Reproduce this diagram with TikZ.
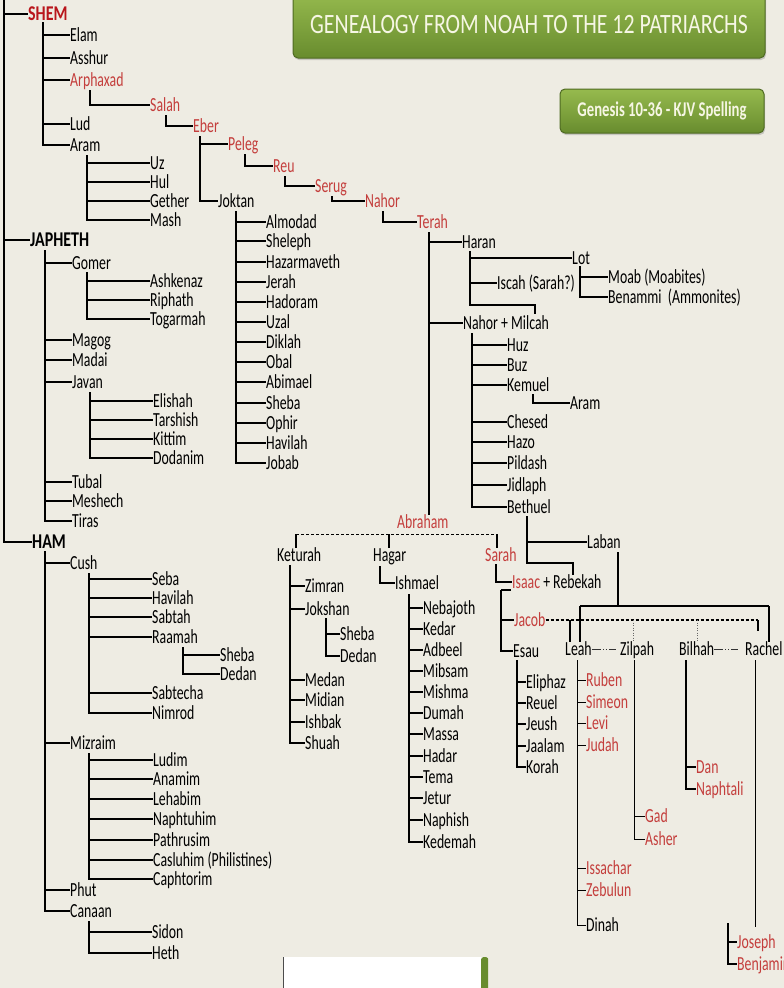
\documentclass[tikz,border=0pt]{standalone}
\usepackage{fontspec}
\setmainfont{Carlito}[FakeStretch=0.69]
\newfontfamily\headfont{Carlito}[FakeStretch=0.76]
\newfontfamily\titlefont{Carlito}[FakeStretch=0.78]
\newfontfamily\subfont{Carlito}[FakeStretch=0.70]
\usetikzlibrary{shadows}
\definecolor{bg}{RGB}{238,236,227}
\definecolor{redname}{RGB}{196,62,60}
\definecolor{shemred}{RGB}{185,22,28}
\definecolor{boxtop}{RGB}{150,186,78}
\definecolor{boxbot}{RGB}{104,140,46}
\definecolor{boxedge}{RGB}{78,106,34}
\definecolor{titletext}{RGB}{246,246,228}
\begin{document}
\begin{tikzpicture}[x=1pt,y=-1pt,
  nm/.style={anchor=west,inner sep=0pt,text height=13pt,text depth=0pt,font=\fontsize{20}{22}\selectfont,text=black},
  rd/.style={nm,text=redname},
  hd/.style={nm,font=\headfont\bfseries\fontsize{21}{23}\selectfont},
  ln/.style={line width=1.1pt,draw=black},
  dsh/.style={line width=1.1pt,draw=black,dash pattern=on 3pt off 2pt},
  dtt/.style={line width=0.7pt,draw=black!60,dash pattern=on 1pt off 1.5pt},
  wifeln/.style={line width=0.9pt,draw=black!80,dash pattern=on 9pt off 2pt on 1pt off 2pt on 1pt off 2pt on 7pt off 20pt},
  greenbox/.style={rounded corners=5pt,draw=boxedge,line width=1pt,top color=boxtop,bottom color=boxbot,text=titletext,
     drop shadow={opacity=0.35,shadow xshift=1pt,shadow yshift=-2pt}}
]
\useasboundingbox (0,0) rectangle (784,988);
\fill[bg] (0,0) rectangle (784,988);

% ---------- title boxes ----------
\node[greenbox,minimum width=472pt,minimum height=66pt,font=\titlefont\fontsize{28}{30}\selectfont] (title) at (529,25) {GENEALOGY FROM NOAH TO THE 12 PATRIARCHS};
\node[greenbox,minimum width=204pt,minimum height=44pt,font=\subfont\bfseries\fontsize{21}{23}\selectfont] (subtitle) at (662,111) {Genesis 10-36 - KJV Spelling};
\node[fill=white,minimum width=205pt,minimum height=40pt,anchor=north west,inner sep=0pt] (blank) at (283,957) {};
\node[fill=boxbot,minimum width=7pt,minimum height=40pt,anchor=north east,inner sep=0pt,rounded corners=2pt] (blankedge) at (blank.north east) {};
\draw[black!70,line width=0.8pt] (blank.north west) -- (blank.south west);

% ---------- sons of Noah ----------
\node[hd,text=shemred] (shem) at (28,14) {SHEM};
\node[hd] (japheth) at (30,240) {JAPHETH};
\node[hd] (ham) at (32,542) {HAM};
\coordinate (root) at (4,0);
\foreach \c in {shem,japheth,ham} \draw[ln] (root) |- (\c.west);

% ---------- SHEM ----------
\node[nm] (elam) at (70,35) {Elam};
\node[nm] (asshur) at (70,58) {Asshur};
\node[rd] (arphaxad) at (70,80) {Arphaxad};
\node[nm] (lud) at (70,124) {Lud};
\node[nm] (aramA) at (70,145) {Aram};
\coordinate (shemSp) at (43,22);
\foreach \c in {elam,asshur,arphaxad,lud,aramA} \draw[ln] (shemSp) |- (\c.west);

\node[nm] (uz) at (150,163) {Uz};
\node[nm] (hul) at (150,182) {Hul};
\node[nm] (gether) at (150,201) {Gether};
\node[nm] (mash) at (150,220) {Mash};
\coordinate (aramSp) at (87,155);
\foreach \c in {uz,hul,gether,mash} \draw[ln] (aramSp) |- (\c.west);

\node[rd] (salah) at (150,105) {Salah};
\coordinate (arphSp) at (90,90);
\draw[ln] (arphSp) |- (salah.west);
\node[rd] (eber) at (193,126) {Eber};
\coordinate (salahSp) at (166,115);
\draw[ln] (salahSp) |- (eber.west);
\node[rd] (peleg) at (228,144) {Peleg};
\node[nm] (joktan) at (218,201) {Joktan};
\coordinate (eberSp) at (200,136);
\foreach \c in {peleg,joktan} \draw[ln] (eberSp) |- (\c.west);
\node[rd] (reu) at (273,166) {Reu};
\coordinate (pelegSp) at (245,154);
\draw[ln] (pelegSp) |- (reu.west);
\node[rd] (serug) at (315,186) {Serug};
\coordinate (reuSp) at (285,176);
\draw[ln] (reuSp) |- (serug.west);
\node[rd] (nahor) at (365,201) {Nahor};
\coordinate (serugSp) at (332,196);
\draw[ln] (serugSp) |- (nahor.west);
\node[rd] (terah) at (417,222) {Terah};
\coordinate (nahorSp) at (383,211);
\draw[ln] (nahorSp) |- (terah.west);

% Joktan's sons
\node[nm] (almodad) at (266,222) {Almodad};
\node[nm] (sheleph) at (266,241) {Sheleph};
\node[nm] (hazarmaveth) at (266,262) {Hazarmaveth};
\node[nm] (jerah) at (266,282) {Jerah};
\node[nm] (hadoram) at (266,302) {Hadoram};
\node[nm] (uzal) at (266,322) {Uzal};
\node[nm] (diklah) at (266,342) {Diklah};
\node[nm] (obal) at (266,362) {Obal};
\node[nm] (abimael) at (266,382) {Abimael};
\node[nm] (shebaA) at (266,403) {Sheba};
\node[nm] (ophir) at (266,423) {Ophir};
\node[nm] (havilahA) at (266,443) {Havilah};
\node[nm] (jobab) at (266,463) {Jobab};
\coordinate (joktanSp) at (236,211);
\foreach \c in {almodad,sheleph,hazarmaveth,jerah,hadoram,uzal,diklah,obal,abimael,shebaA,ophir,havilahA,jobab}
  \draw[ln] (joktanSp) |- (\c.west);

% ---------- Terah ----------
\node[nm] (haran) at (462,242) {Haran};
\node[nm] (nahormilcah) at (463,323) {Nahor + Milcah};
\node[rd] (abraham) at (397,522) {Abraham};
\coordinate (terahSp) at (429,232);
\foreach \c in {haran,nahormilcah} \draw[ln] (terahSp) |- (\c.west);
\draw[ln] (terahSp) -- (abraham.north -| terahSp);

\node[nm] (lot) at (572,258) {Lot};
\node[nm] (iscah) at (497,283) {Iscah (Sarah?)};
\coordinate (haranSp) at (470,251);
\coordinate (milcahBend) at (535,305);
\coordinate (milcahTop) at (535,314);
\foreach \c in {lot,iscah} \draw[ln] (haranSp) |- (\c.west);
\draw[ln] (haranSp) |- (milcahBend) -- (milcahTop);

\node[nm] (moab) at (608,277) {Moab (Moabites)};
\node[nm] (benammi) at (608,297) {Benammi\ \ (Ammonites)};
\coordinate (lotSp) at (580,266);
\foreach \c in {moab,benammi} \draw[ln] (lotSp) |- (\c.west);

\node[nm] (huz) at (507,345) {Huz};
\node[nm] (buz) at (507,365) {Buz};
\node[nm] (kemuel) at (507,385) {Kemuel};
\node[nm] (chesed) at (507,422) {Chesed};
\node[nm] (hazo) at (507,442) {Hazo};
\node[nm] (pildash) at (507,463) {Pildash};
\node[nm] (jidlaph) at (507,485) {Jidlaph};
\node[nm] (bethuel) at (507,507) {Bethuel};
\coordinate (milcahSp) at (472,333);
\foreach \c in {huz,buz,kemuel,chesed,hazo,pildash,jidlaph,bethuel} \draw[ln] (milcahSp) |- (\c.west);
\node[nm] (aramB) at (570,403) {Aram};
\coordinate (kemuelSp) at (533,394);
\draw[ln] (kemuelSp) |- (aramB.west);

% Bethuel
\node[nm] (laban) at (587,542) {Laban};
\node[nm] (isaac) at (512,582) {\textcolor{redname}{Isaac} + Rebekah};
\coordinate (bethSp) at (527,516);
\coordinate (rebBend) at (573,563);
\coordinate (rebTop) at (573,575);
\draw[ln] (bethSp) |- (laban.west);
\draw[ln] (bethSp) |- (rebBend) -- (rebTop);

% ---------- Abraham's wives ----------
\node[nm] (keturah) at (277,555) {Keturah};
\node[nm] (hagar) at (373,555) {Hagar};
\node[rd] (sarah) at (485,555) {Sarah};
\coordinate (abrL) at (296,534);
\coordinate (abrM) at (389,534);
\coordinate (abrR) at (497,534);
\draw[dsh,line width=0.9pt] (abrL) -- (abrR);
\draw[ln] (abrL) -- (keturah.north -| abrL);
\draw[ln] (abrM) -- (hagar.north -| abrM);
\draw[ln] (abrR) -- (sarah.north -| abrR);

% Keturah
\node[nm] (zimran) at (305,586) {Zimran};
\node[nm] (jokshan) at (305,609) {Jokshan};
\node[nm] (medan) at (305,680) {Medan};
\node[nm] (midian) at (305,700) {Midian};
\node[nm] (ishbak) at (305,722) {Ishbak};
\node[nm] (shuah) at (305,743) {Shuah};
\coordinate (ketSp) at (290,565);
\foreach \c in {zimran,jokshan,medan,midian,ishbak,shuah} \draw[ln] (ketSp) |- (\c.west);
\node[nm] (shebaB) at (340,634) {Sheba};
\node[nm] (dedanA) at (340,656) {Dedan};
\coordinate (jokshanSp) at (326,618);
\foreach \c in {shebaB,dedanA} \draw[ln] (jokshanSp) |- (\c.west);

% Hagar
\node[nm] (ishmael) at (395,583) {Ishmael};
\coordinate (hagarSp) at (380,566);
\draw[ln] (hagarSp) |- (ishmael.west);
\node[nm] (nebajoth) at (423,608) {Nebajoth};
\node[nm] (kedar) at (423,629) {Kedar};
\node[nm] (adbeel) at (423,650) {Adbeel};
\node[nm] (mibsam) at (423,671) {Mibsam};
\node[nm] (mishma) at (423,692) {Mishma};
\node[nm] (dumah) at (423,713) {Dumah};
\node[nm] (massa) at (423,734) {Massa};
\node[nm] (hadar) at (423,756) {Hadar};
\node[nm] (tema) at (423,777) {Tema};
\node[nm] (jetur) at (423,798) {Jetur};
\node[nm] (naphish) at (423,820) {Naphish};
\node[nm] (kedemah) at (423,842) {Kedemah};
\coordinate (ishSp) at (409,594);
\foreach \c in {nebajoth,kedar,adbeel,mibsam,mishma,dumah,massa,hadar,tema,jetur,naphish,kedemah}
  \draw[ln] (ishSp) |- (\c.west);

% Sarah -> Isaac
\coordinate (sarahSp) at (496,564);
\draw[ln] (sarahSp) |- (isaac.west);
\node[rd] (jacob) at (514,620) {Jacob};
\node[nm] (esau) at (513,651) {Esau};
\coordinate (isaacSp) at (501,590);
\coordinate (isaacTick) at (511,590);
\draw[ln] (isaacSp) -- (isaacTick);
\foreach \c in {jacob,esau} \draw[ln] (isaacSp) |- (\c.west);

\node[nm] (eliphaz) at (526,682) {Eliphaz};
\node[nm] (reuel) at (526,703) {Reuel};
\node[nm] (jeush) at (526,724) {Jeush};
\node[nm] (jaalam) at (526,746) {Jaalam};
\node[nm] (korah) at (526,767) {Korah};
\coordinate (esauSp) at (517,660);
\foreach \c in {eliphaz,reuel,jeush,jaalam,korah} \draw[ln] (esauSp) |- (\c.west);

% ---------- Jacob's wives ----------
\node[nm] (leah) at (565,649) {Leah};
\node[nm] (zilpah) at (620,649) {Zilpah};
\node[nm] (bilhah) at (679,649) {Bilhah};
\node[nm] (rachel) at (745,649) {Rachel};
\draw[wifeln] (leah.east) -- (zilpah.west);
\draw[wifeln] (bilhah.east) -- (rachel.west);

\coordinate (jacR) at (758,620);
\coordinate (rachelStub) at (758,631);
\draw[dsh] (jacob.east) -- (jacR);
\draw[ln] (jacR) -- (rachelStub);
\coordinate (jLeah) at (570,620);
\coordinate (jZil) at (633,620);
\coordinate (jBil) at (697,620);
\draw[ln] (jLeah) -- (leah.north -| jLeah);
\draw[dtt] (jZil) -- (zilpah.north -| jZil);
\draw[dtt] (jBil) -- (bilhah.north -| jBil);

\coordinate (labanSp) at (618,552);
\coordinate (barMid) at (618,606);
\coordinate (barL) at (580,606);
\coordinate (barR) at (769,606);
\draw[ln] (labanSp) -- (barMid);
\draw[line width=1.9pt] (barL) -- (barR);
\draw[ln] (barL) -- (leah.north -| barL);
\draw[ln] (barR) -- (rachel.north -| barR);

% Leah
\node[rd] (ruben) at (586,680) {Ruben};
\node[rd] (simeon) at (586,702) {Simeon};
\node[rd] (levi) at (586,723) {Levi};
\node[rd] (judah) at (586,745) {Judah};
\node[rd] (issachar) at (586,868) {Issachar};
\node[rd] (zebulun) at (586,890) {Zebulun};
\node[nm] (dinah) at (586,925) {Dinah};
\coordinate (leahSp) at (577,660);
\foreach \c in {ruben,simeon,levi,judah,issachar,zebulun,dinah} \draw[line width=0.8pt] (leahSp) |- (\c.west);

% Zilpah
\node[rd] (gad) at (645,816) {Gad};
\node[rd] (asher) at (645,839) {Asher};
\coordinate (zilSp) at (634,660);
\foreach \c in {gad,asher} \draw[line width=0.8pt] (zilSp) |- (\c.west);

% Bilhah
\node[rd] (dan) at (696,767) {Dan};
\node[rd] (naphtali) at (696,789) {Naphtali};
\coordinate (bilSp) at (686,660);
\foreach \c in {dan,naphtali} \draw[ln] (bilSp) |- (\c.west);

% Rachel
\coordinate (rachelSp) at (755,660);
\coordinate (rachelEnd) at (755,927);
\draw[line width=0.8pt] (rachelSp) -- (rachelEnd);
\node[rd] (joseph) at (737,942) {Joseph};
\node[rd] (benjamin) at (737,964) {Benjamin};
\coordinate (josSp) at (728,923);
\foreach \c in {joseph,benjamin} \draw[ln] (josSp) |- (\c.west);

% ---------- JAPHETH ----------
\node[nm] (gomer) at (72,263) {Gomer};
\node[nm] (magog) at (72,340) {Magog};
\node[nm] (madai) at (72,360) {Madai};
\node[nm] (javan) at (72,382) {Javan};
\node[nm] (tubal) at (72,482) {Tubal};
\node[nm] (meshech) at (72,501) {Meshech};
\node[nm] (tiras) at (72,521) {Tiras};
\coordinate (japSp) at (45,250);
\foreach \c in {gomer,magog,madai,javan,tubal,meshech,tiras} \draw[ln] (japSp) |- (\c.west);

\node[nm] (ashkenaz) at (150,281) {Ashkenaz};
\node[nm] (riphath) at (150,300) {Riphath};
\node[nm] (togarmah) at (150,319) {Togarmah};
\coordinate (gomerSp) at (87,272);
\foreach \c in {ashkenaz,riphath,togarmah} \draw[ln] (gomerSp) |- (\c.west);

\node[nm] (elishah) at (153,401) {Elishah};
\node[nm] (tarshish) at (153,420) {Tarshish};
\node[nm] (kittim) at (153,439) {Kittim};
\node[nm] (dodanim) at (153,458) {Dodanim};
\coordinate (javanSp) at (90,392);
\foreach \c in {elishah,tarshish,kittim,dodanim} \draw[ln] (javanSp) |- (\c.west);

% ---------- HAM ----------
\node[nm] (cush) at (70,563) {Cush};
\node[nm] (mizraim) at (70,743) {Mizraim};
\node[nm] (phut) at (70,890) {Phut};
\node[nm] (canaan) at (70,911) {Canaan};
\coordinate (hamSp) at (45,551);
\foreach \c in {cush,mizraim,phut,canaan} \draw[ln] (hamSp) |- (\c.west);

\node[nm] (seba) at (152,579) {Seba};
\node[nm] (havilahB) at (152,598) {Havilah};
\node[nm] (sabtah) at (152,617) {Sabtah};
\node[nm] (raamah) at (152,637) {Raamah};
\node[nm] (sabtecha) at (152,693) {Sabtecha};
\node[nm] (nimrod) at (152,713) {Nimrod};
\coordinate (cushSp) at (89,573);
\foreach \c in {seba,havilahB,sabtah,raamah,sabtecha,nimrod} \draw[ln] (cushSp) |- (\c.west);
\node[nm] (shebaC) at (220,655) {Sheba};
\node[nm] (dedanB) at (220,674) {Dedan};
\coordinate (raamahSp) at (183,647);
\foreach \c in {shebaC,dedanB} \draw[ln] (raamahSp) |- (\c.west);

\node[nm] (ludim) at (153,760) {Ludim};
\node[nm] (anamim) at (153,779) {Anamim};
\node[nm] (lehabim) at (153,799) {Lehabim};
\node[nm] (naphtuhim) at (153,819) {Naphtuhim};
\node[nm] (pathrusim) at (153,840) {Pathrusim};
\node[nm] (casluhim) at (153,860) {Casluhim (Philistines)};
\node[nm] (caphtorim) at (153,879) {Caphtorim};
\coordinate (mizSp) at (89,753);
\foreach \c in {ludim,anamim,lehabim,naphtuhim,pathrusim,casluhim,caphtorim} \draw[ln] (mizSp) |- (\c.west);

\node[nm] (sidon) at (152,932) {Sidon};
\node[nm] (heth) at (152,953) {Heth};
\coordinate (canaanSp) at (89,921);
\foreach \c in {sidon,heth} \draw[ln] (canaanSp) |- (\c.west);
\end{tikzpicture}
\end{document}
